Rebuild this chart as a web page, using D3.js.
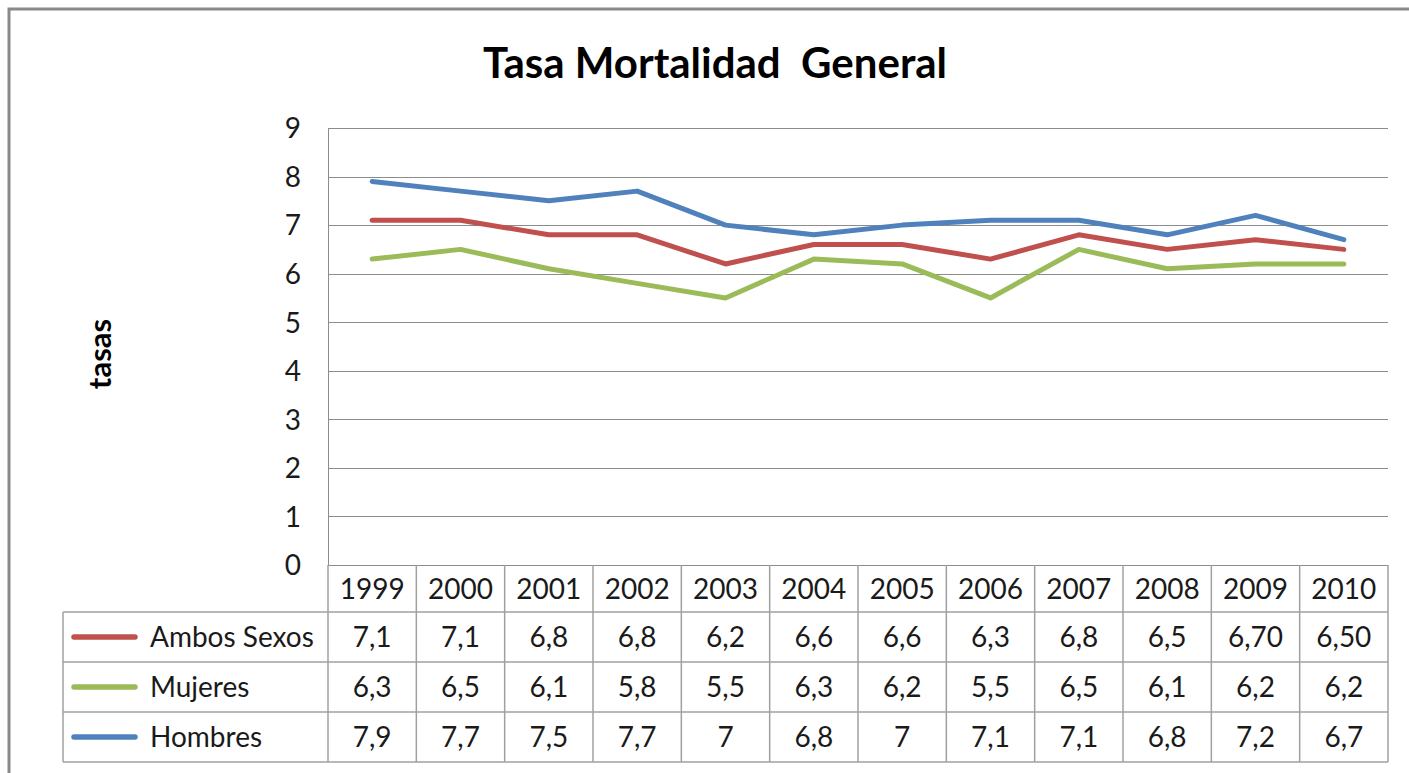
<!DOCTYPE html>
<html lang="es">
<head>
<meta charset="utf-8" />
<title>Tasa Mortalidad General</title>
<style>
  * { margin: 0; padding: 0; }
  body { background: white; font-family: Lato, "Open Sans", sans-serif; }
  svg { display: block; }
  .grid line { stroke: #8c8c8c; stroke-width: 1px; }
  .tbl line { stroke: #a0a0a0; stroke-width: 1.5px; }
  .serie { fill: none; stroke-width: 5px; stroke-linejoin: round; stroke-linecap: round; }
  .num { font-size: 28px; fill: #1a1a1a; }
</style>
</head>
<body>
<script src="https://d3js.org/d3.v7.min.js"></script>
<div id="chart"></div>
<script>

  // datos
  var years = ["1999", "2000", "2001", "2002", "2003", "2004", "2005", "2006", "2007", "2008", "2009", "2010"];
  var yTicks = [0, 1, 2, 3, 4, 5, 6, 7, 8, 9];

  var seriesNames = ["Ambos Sexos", "Mujeres", "Hombres"];
  var seriesColors = ["#c0504d", "#9bbb59", "#4f81bd"];

  var ambos = [7.1, 7.1, 6.8, 6.8, 6.2, 6.6, 6.6, 6.3, 6.8, 6.5, 6.70, 6.50];
  var mujeres = [6.3, 6.5, 6.1, 5.8, 5.5, 6.3, 6.2, 5.5, 6.5, 6.1, 6.2, 6.2];
  var hombres = [7.9, 7.7, 7.5, 7.7, 7, 6.8, 7, 7.1, 7.1, 6.8, 7.2, 6.7];

  // como aparecen en la tabla
  var ambosText = ["7,1", "7,1", "6,8", "6,8", "6,2", "6,6", "6,6", "6,3", "6,8", "6,5", "6,70", "6,50"];
  var mujeresText = ["6,3", "6,5", "6,1", "5,8", "5,5", "6,3", "6,2", "5,5", "6,5", "6,1", "6,2", "6,2"];
  var hombresText = ["7,9", "7,7", "7,5", "7,7", "7", "6,8", "7", "7,1", "7,1", "6,8", "7,2", "6,7"];

  var values = [ambos, mujeres, hombres];
  var texts = [ambosText, mujeresText, hombresText];

  var W = 1409, H = 773;
  var plot = {left: 328, right: 1388, top: 128, bottom: 565};
  var tableLeft = 63, headerH = 47, rowH = 50;

  var svg = d3.select("#chart").append("svg")
      .attr("width", W)
      .attr("height", H);

  // marco exterior
  svg.append("rect")
      .attr("x", 9).attr("y", 9)
      .attr("width", W).attr("height", H)
      .attr("fill", "white")
      .attr("stroke", "#8a8a8a")
      .attr("stroke-width", 3);

  var x = d3.scaleBand()
      .domain(years)
      .range([plot.left, plot.right]);

  var y = d3.scaleLinear()
      .domain([0, 9])
      .range([plot.bottom, plot.top]);

  // lineas de cuadricula
  svg.append("g")
      .attr("class", "grid")
      .selectAll("line")
      .data(yTicks)
    .enter().append("line")
      .attr("x1", plot.left)
      .attr("x2", plot.right)
      .attr("y1", function(d) { return Math.round(y(d)) + 0.5; })
      .attr("y2", function(d) { return Math.round(y(d)) + 0.5; });

  // eje y
  var yAxis = svg.append("g")
      .attr("transform", "translate(" + (plot.left - 27) + ",0)")
      .call(d3.axisLeft(y).tickValues(yTicks).tickSize(0).tickPadding(0));
  yAxis.select(".domain").remove();
  yAxis.selectAll("text")
      .attr("class", "num")
      .style("font-family", "Lato, sans-serif")
      .attr("dy", "0.35em");

  svg.append("line")
      .attr("x1", plot.left + 0.5).attr("x2", plot.left + 0.5)
      .attr("y1", plot.top).attr("y2", plot.bottom)
      .attr("stroke", "#8c8c8c");

  // titulo
  svg.append("text")
      .attr("x", 715)
      .attr("y", 78)
      .attr("text-anchor", "middle")
      .style("font-size", "42px")
      .style("font-weight", "bold")
      .style("white-space", "pre")
      .text("Tasa Mortalidad  General");

  svg.append("text")
      .attr("transform", "translate(111,354) rotate(-90)")
      .attr("text-anchor", "middle")
      .style("font-size", "31px")
      .style("font-weight", "bold")
      .text("tasas");

  // lineas de las series
  var line = d3.line()
      .x(function(d, i) { return x(years[i]) + x.bandwidth() / 2; })
      .y(function(d) { return y(d); });

  svg.selectAll(".serie")
      .data(values)
    .enter().append("path")
      .attr("class", "serie")
      .attr("stroke", function(d, i) { return seriesColors[i]; })
      .attr("d", line);

  // tabla de datos
  var tbl = svg.append("g").attr("class", "tbl");
  var tableTop = plot.bottom + headerH;
  var tableBottom = tableTop + rowH * seriesNames.length;

  // verticales
  tbl.selectAll("line.v")
      .data(years.map(function(d) { return x(d); }).concat([plot.right]))
    .enter().append("line")
      .attr("x1", function(d) { return d; })
      .attr("x2", function(d) { return d; })
      .attr("y1", plot.bottom)
      .attr("y2", tableBottom);
  tbl.append("line")
      .attr("x1", tableLeft).attr("x2", tableLeft)
      .attr("y1", tableTop).attr("y2", tableBottom);

  // horizontales
  tbl.selectAll("line.h")
      .data(d3.range(seriesNames.length + 1))
    .enter().append("line")
      .attr("x1", tableLeft)
      .attr("x2", plot.right)
      .attr("y1", function(d) { return tableTop + d * rowH; })
      .attr("y2", function(d) { return tableTop + d * rowH; });

  // encabezado de anos
  svg.selectAll(".year")
      .data(years)
    .enter().append("text")
      .attr("class", "num")
      .attr("x", function(d) { return x(d) + x.bandwidth() / 2; })
      .attr("y", plot.bottom + headerH / 2)
      .attr("dy", "0.36em")
      .attr("text-anchor", "middle")
      .text(function(d) { return d; });

  var rows = svg.selectAll(".row")
      .data(seriesNames)
    .enter().append("g")
      .attr("transform", function(d, i) { return "translate(0," + (tableTop + i * rowH + rowH / 2) + ")"; });

  rows.append("line")
      .attr("x1", 74).attr("x2", 135)
      .attr("y1", 0).attr("y2", 0)
      .attr("stroke", function(d, i) { return seriesColors[i]; })
      .attr("stroke-width", 5.5)
      .attr("stroke-linecap", "round");

  rows.append("text")
      .attr("class", "num")
      .attr("x", 150)
      .attr("dy", "0.36em")
      .text(function(d) { return d; });

  rows.each(function(name, r) {
    d3.select(this).selectAll(".cell")
        .data(texts[r])
      .enter().append("text")
        .attr("class", "num")
        .attr("x", function(d, i) { return x(years[i]) + x.bandwidth() / 2; })
        .attr("dy", "0.36em")
        .attr("text-anchor", "middle")
        .text(function(d) { return d; });
  });

</script>
</body>
</html>
